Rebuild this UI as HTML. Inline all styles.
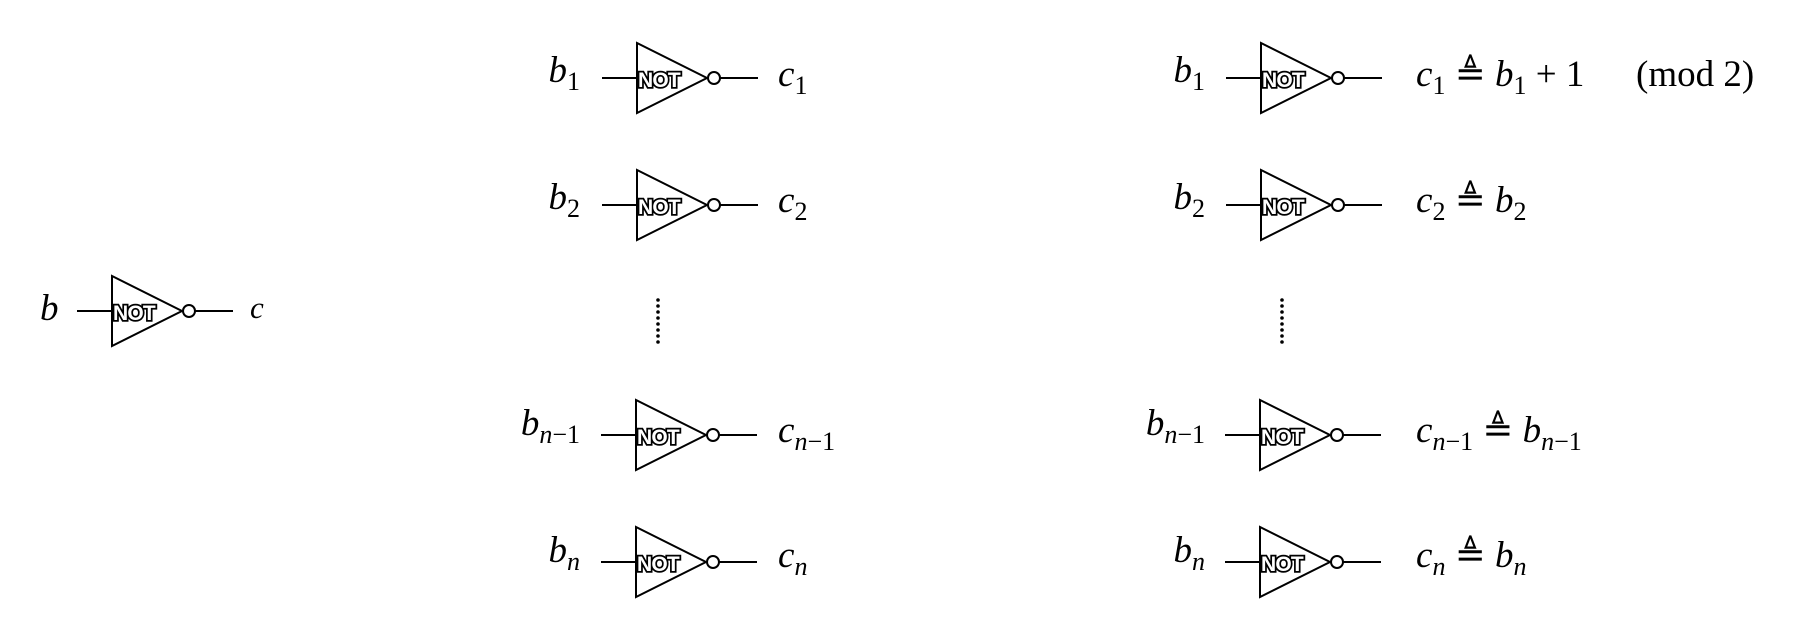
<!DOCTYPE html>
<html><head><meta charset="utf-8"><style>
html,body{margin:0;padding:0;background:#fff}
svg{display:block}
.m{font-family:"Liberation Serif","DejaVu Serif",serif;font-size:37px;fill:#000}
.i{font-style:italic}
.s{font-size:26px}
.n{font-family:"Liberation Sans","DejaVu Sans",sans-serif;font-weight:bold;font-size:21px;fill:#fff;stroke:#000;stroke-width:3.5px;paint-order:stroke;letter-spacing:-0.8px}
</style></head><body>
<svg width="1800" height="641" viewBox="0 0 1800 641" xmlns="http://www.w3.org/2000/svg">
<defs>
<g id="g">
<line x1="0" y1="0" x2="36" y2="0" stroke="#000" stroke-width="2"/>
<polygon points="35,-35 35,35 105,0" fill="none" stroke="#000" stroke-width="2"/>
<circle cx="112" cy="0" r="6" fill="#fff" stroke="#000" stroke-width="2"/>
<line x1="118" y1="0" x2="156" y2="0" stroke="#000" stroke-width="2"/>
<text class="n" x="36" y="9">NOT</text>
</g>
</defs>
<use href="#g" x="77" y="311"/>
<text class="m i" x="40" y="320">b</text>
<text class="m i" x="250" y="318" style="font-size:31px">c</text>
<use href="#g" x="602" y="78"/>
<use href="#g" x="602" y="205"/>
<use href="#g" x="601" y="435"/>
<use href="#g" x="601" y="562"/>
<text class="m" x="580" y="82" text-anchor="end"><tspan class="i">b</tspan><tspan class="s" dy="8">1</tspan></text>
<text class="m" x="580" y="209" text-anchor="end"><tspan class="i">b</tspan><tspan class="s" dy="8">2</tspan></text>
<text class="m" x="580" y="435" text-anchor="end"><tspan class="i">b</tspan><tspan class="s i" dy="8">n</tspan><tspan class="s" >−1</tspan></text>
<text class="m" x="580" y="562" text-anchor="end"><tspan class="i">b</tspan><tspan class="s i" dy="8">n</tspan></text>
<text class="m" x="778" y="86"><tspan class="i">c</tspan><tspan class="s" dy="8">1</tspan></text>
<text class="m" x="778" y="212"><tspan class="i">c</tspan><tspan class="s" dy="8">2</tspan></text>
<text class="m" x="778" y="442"><tspan class="i">c</tspan><tspan class="s i" dy="8">n</tspan><tspan class="s">−1</tspan></text>
<text class="m" x="778" y="567"><tspan class="i">c</tspan><tspan class="s i" dy="8">n</tspan></text>
<g fill="#000">
<circle cx="658" cy="300" r="1.8"/><circle cx="658" cy="306" r="1.8"/><circle cx="658" cy="312" r="1.8"/><circle cx="658" cy="318" r="1.8"/><circle cx="658" cy="324" r="1.8"/><circle cx="658" cy="330" r="1.8"/><circle cx="658" cy="336" r="1.8"/><circle cx="658" cy="342" r="1.8"/>
<circle cx="1282" cy="300" r="1.8"/><circle cx="1282" cy="306" r="1.8"/><circle cx="1282" cy="312" r="1.8"/><circle cx="1282" cy="318" r="1.8"/><circle cx="1282" cy="324" r="1.8"/><circle cx="1282" cy="330" r="1.8"/><circle cx="1282" cy="336" r="1.8"/><circle cx="1282" cy="342" r="1.8"/>
</g>
<use href="#g" x="1226" y="78"/>
<use href="#g" x="1226" y="205"/>
<use href="#g" x="1225" y="435"/>
<use href="#g" x="1225" y="562"/>
<text class="m" x="1205" y="82" text-anchor="end"><tspan class="i">b</tspan><tspan class="s" dy="8">1</tspan></text>
<text class="m" x="1205" y="209" text-anchor="end"><tspan class="i">b</tspan><tspan class="s" dy="8">2</tspan></text>
<text class="m" x="1205" y="435" text-anchor="end"><tspan class="i">b</tspan><tspan class="s i" dy="8">n</tspan><tspan class="s">−1</tspan></text>
<text class="m" x="1205" y="562" text-anchor="end"><tspan class="i">b</tspan><tspan class="s i" dy="8">n</tspan></text>
<text class="m" x="1416" y="86"><tspan class="i">c</tspan><tspan class="s" dy="8">1</tspan><tspan dy="-8">  ≜  </tspan><tspan class="i">b</tspan><tspan class="s" dy="8">1</tspan><tspan dy="-8">  +  1</tspan><tspan x="1636">(mod   2)</tspan></text>
<text class="m" x="1416" y="212"><tspan class="i">c</tspan><tspan class="s" dy="8">2</tspan><tspan dy="-8">  ≜  </tspan><tspan class="i">b</tspan><tspan class="s" dy="8">2</tspan></text>
<text class="m" x="1416" y="442"><tspan class="i">c</tspan><tspan class="s i" dy="8">n</tspan><tspan class="s">−1</tspan><tspan dy="-8">  ≜  </tspan><tspan class="i">b</tspan><tspan class="s i" dy="8">n</tspan><tspan class="s">−1</tspan></text>
<text class="m" x="1416" y="567"><tspan class="i">c</tspan><tspan class="s i" dy="8">n</tspan><tspan dy="-8">  ≜  </tspan><tspan class="i">b</tspan><tspan class="s i" dy="8">n</tspan></text>
</svg>
</body></html>
